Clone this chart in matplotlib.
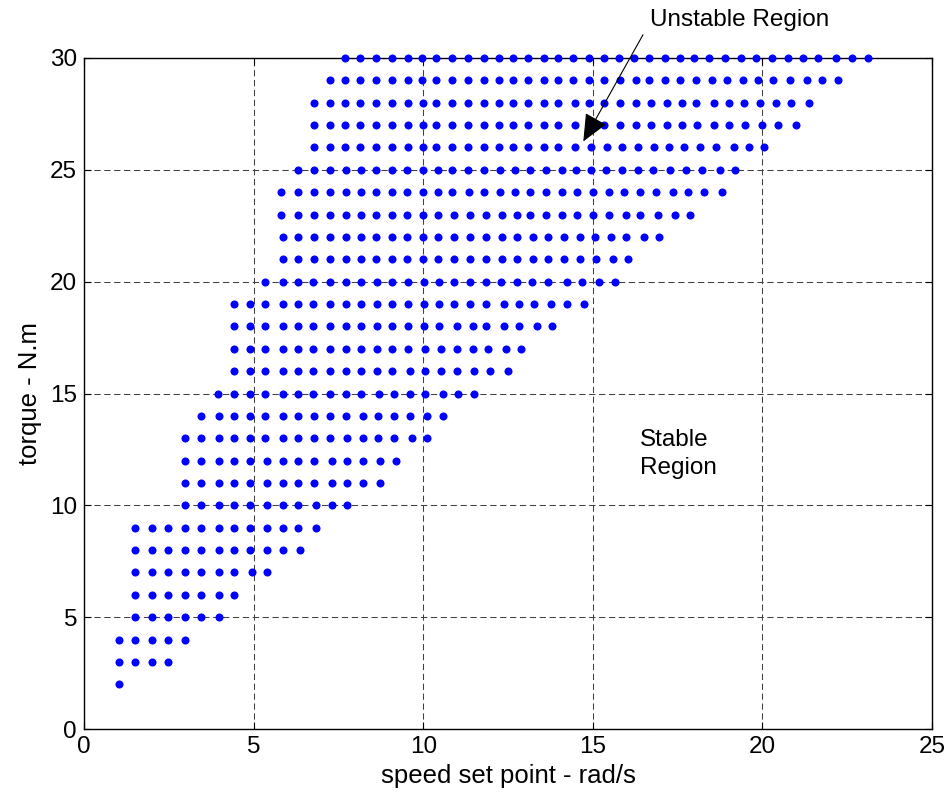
import matplotlib
matplotlib.use("Agg")
import matplotlib.pyplot as plt

# ---- data: torque (N.m) rows and speed set points (rad/s) ----
torque = [2, 3, 4, 5, 6, 7, 8, 9, 10, 11, 12, 13, 14, 15, 16,
          17, 18, 19, 20, 21, 22, 23, 24, 25, 26, 27, 28, 29, 30]

r02 = [1.02]
r03 = [1.02, 1.49, 2.00, 2.48]
r04 = [1.02, 1.49, 2.00, 2.48, 2.99]
r05 = [1.49, 2.00, 2.48, 2.99, 3.45, 3.97]
r06 = [1.49, 2.00, 2.48, 2.99, 3.45, 3.97, 4.43]
r07 = [1.49, 2.00, 2.48, 2.99, 3.45, 3.97, 4.43, 4.95, 5.40]
r08 = [1.49, 2.00, 2.48, 2.99, 3.45, 3.97, 4.43, 4.88, 5.40, 5.86, 6.38]
r09 = [1.49, 2.00, 2.48, 2.99, 3.45, 3.97, 4.43, 4.88, 5.40, 5.86, 6.32, 6.84]
r10 = [2.99, 3.45, 3.97, 4.43, 4.88, 5.39, 5.86, 6.32, 6.84, 7.30, 7.76]
r11 = [2.99, 3.45, 3.97, 4.43, 4.88, 5.39, 5.86, 6.32, 6.79, 7.30, 7.76, 8.22, 8.73]
r12 = [2.99, 3.45, 3.97, 4.43, 4.88, 5.39, 5.86, 6.32, 6.79, 7.30, 7.76, 8.22, 8.73, 9.20]
r13 = [2.99, 3.45, 3.97, 4.43, 4.88, 5.34, 5.86, 6.32, 6.79, 7.25, 7.76, 8.22, 8.68,
       9.15, 9.66, 10.12]
r14 = [3.45, 3.97, 4.43, 4.88, 5.34, 5.86, 6.32, 6.79, 7.25, 7.71, 8.22, 8.68, 9.15,
       9.60, 10.12, 10.58]
r15 = [3.95, 4.42, 4.88, 5.33, 5.86, 6.32, 6.76, 7.24, 7.71, 8.16, 8.69, 9.14, 9.61,
       10.06, 10.58, 11.04, 11.50]
r16 = [4.42, 4.88, 5.33, 5.86, 6.32, 6.76, 7.24, 7.71, 8.16, 8.63, 9.09, 9.61, 10.06,
       10.53, 11.00, 11.50, 11.96, 12.49]
r17 = [4.42, 4.88, 5.33, 5.86, 6.32, 6.76, 7.24, 7.71, 8.16, 8.63, 9.09, 9.55, 10.06,
       10.53, 11.00, 11.46, 11.91, 12.43, 12.88]
r18 = [4.42, 4.88, 5.33, 5.86, 6.32, 6.76, 7.24, 7.71, 8.16, 8.63, 9.09, 9.55, 10.01,
       10.47, 10.99, 11.46, 11.85, 12.37, 12.83, 13.35, 13.81]
r19 = [4.42, 4.88, 5.33, 5.86, 6.32, 6.76, 7.24, 7.71, 8.16, 8.63, 9.09, 9.55, 10.01,
       10.47, 10.92, 11.38, 11.85, 12.37, 12.83, 13.28, 13.76, 14.25, 14.73]
r20 = [5.33, 5.86, 6.32, 6.76, 7.24, 7.71, 8.16, 8.63, 9.09, 9.55, 10.01, 10.47, 10.92,
       11.38, 11.85, 12.30, 12.77, 13.22, 13.69, 14.23, 14.69, 15.18, 15.65]
r21 = [5.86, 6.32, 6.78, 7.25, 7.71, 8.16, 8.62, 9.07, 9.53, 9.99, 10.45, 10.91, 11.39,
       11.86, 12.31, 12.77, 13.23, 13.67, 14.15, 14.62, 15.08, 15.59, 16.04]
r22 = [5.86, 6.32, 6.78, 7.25, 7.71, 8.16, 8.62, 9.07, 9.53, 9.99, 10.45, 10.91, 11.39,
       11.86, 12.31, 12.77, 13.23, 13.67, 14.15, 14.62, 15.06, 15.53, 15.99, 16.50, 16.95]
r23 = [5.80, 6.32, 6.78, 7.25, 7.71, 8.16, 8.62, 9.07, 9.53, 9.99, 10.45, 10.91, 11.39,
       11.86, 12.31, 12.77, 13.16, 13.63, 14.09, 14.54, 15.01, 15.47, 15.99, 16.40, 16.92,
       17.42, 17.88]
r24 = [5.80, 6.32, 6.78, 7.25, 7.71, 8.16, 8.62, 9.07, 9.53, 9.99, 10.45, 10.85, 11.35,
       11.79, 12.25, 12.72, 13.16, 13.63, 14.09, 14.54, 15.01, 15.47, 15.91, 16.39, 16.85,
       17.37, 17.81, 18.29, 18.81]
r25 = [6.32, 6.78, 7.25, 7.71, 8.16, 8.62, 9.07, 9.53, 9.99, 10.45, 10.85, 11.33, 11.79,
       12.25, 12.70, 13.16, 13.63, 14.09, 14.49, 14.95, 15.40, 15.86, 16.33, 16.78, 17.29,
       17.76, 18.22, 18.74, 19.20]
r26 = [6.77, 7.24, 7.69, 8.15, 8.61, 9.08, 9.54, 10.00, 10.39, 10.85, 11.32, 11.78, 12.24,
       12.66, 13.10, 13.55, 13.97, 14.48, 14.95, 15.41, 15.87, 16.32, 16.79, 17.25, 17.70,
       18.16, 18.62, 19.15, 19.61, 20.05]
r27 = [6.77, 7.24, 7.69, 8.15, 8.61, 9.08, 9.54, 10.00, 10.39, 10.85, 11.32, 11.78, 12.24,
       12.66, 13.10, 13.55, 13.97, 14.48, 14.93, 15.33, 15.81, 16.27, 16.72, 17.18, 17.64,
       18.08, 18.56, 19.03, 19.49, 20.00, 20.45, 20.98]
r28 = [6.77, 7.24, 7.69, 8.15, 8.61, 9.08, 9.54, 10.00, 10.39, 10.85, 11.32, 11.78, 12.24,
       12.66, 13.10, 13.55, 13.97, 14.48, 14.88, 15.33, 15.81, 16.27, 16.72, 17.18, 17.64,
       18.05, 18.56, 19.03, 19.47, 19.94, 20.40, 20.85, 21.38]
r29 = [7.24, 7.69, 8.15, 8.61, 9.08, 9.54, 9.96, 10.39, 10.85, 11.32, 11.78, 12.24, 12.66,
       13.10, 13.55, 13.97, 14.43, 14.88, 15.33, 15.81, 16.27, 16.66, 17.12, 17.57, 18.05,
       18.51, 18.95, 19.42, 19.88, 20.32, 20.80, 21.31, 21.77, 22.24]
r30 = [7.69, 8.15, 8.61, 9.08, 9.54, 9.96, 10.39, 10.85, 11.32, 11.78, 12.24, 12.66, 13.10,
       13.55, 13.97, 14.43, 14.88, 15.33, 15.76, 16.20, 16.66, 17.12, 17.57, 17.99, 18.43,
       18.90, 19.36, 19.82, 20.28, 20.74, 21.19, 21.65, 22.17, 22.63, 23.10]

speed_rows = [r02, r03, r04, r05, r06, r07, r08, r09, r10, r11, r12, r13, r14, r15, r16,
              r17, r18, r19, r20, r21, r22, r23, r24, r25, r26, r27, r28, r29, r30]

x_ticks = [0, 5, 10, 15, 20, 25]
y_ticks = [0, 5, 10, 15, 20, 25, 30]

# ---- figure ----
plt.rcParams['font.family'] = ['Liberation Sans', 'DejaVu Sans']
FS_TICK = 17.5
FS_LABEL = 18.5
FS_TEXT = 17.5

fig = plt.figure(figsize=(9.49, 7.96), dpi=100)
ax = fig.add_axes([84 / 949, (796 - 729) / 796, (932 - 84) / 949, (729 - 58) / 796])

xs, ys = [], []
for t, row in zip(torque, speed_rows):
    xs.extend(row)
    ys.extend([t] * len(row))

ax.plot(xs, ys, linestyle='none', marker='o', markersize=5.8, color='#0000ff',
        markeredgewidth=0, clip_on=False, zorder=3)

ax.set_xlim(0, 25)
ax.set_ylim(0, 30)
ax.set_xticks(x_ticks)
ax.set_yticks(y_ticks)
ax.tick_params(direction='in', length=5, width=0.8, top=True, right=True,
               labelsize=FS_TICK, pad=5, colors='black')
ax.grid(True, color='0.25', linestyle=(0, (6, 3.5)), linewidth=0.75, zorder=1)
ax.set_axisbelow(True)
for sp in ax.spines.values():
    sp.set_linewidth(1.0)
    sp.set_color('black')

ax.set_xlabel('speed set point - rad/s', fontsize=FS_LABEL, labelpad=4)
ax.set_ylabel('torque - N.m', fontsize=FS_LABEL, labelpad=6)

# annotations
ax.annotate('', xy=(14.72, 26.27), xytext=(16.48, 31.04),
            arrowprops=dict(arrowstyle='-|>,head_length=0.95,head_width=0.42',
                            color='black', lw=0.8, shrinkA=0, shrinkB=0,
                            mutation_scale=18),
            annotation_clip=False, zorder=5)
ax.text(16.69, 31.72, 'Unstable Region', fontsize=FS_TEXT, ha='left', va='center',
        clip_on=False)
ax.text(16.40, 12.30, 'Stable\nRegion', fontsize=FS_TEXT, ha='left', va='center',
        linespacing=1.38)

fig.savefig('out.png', dpi=100)
